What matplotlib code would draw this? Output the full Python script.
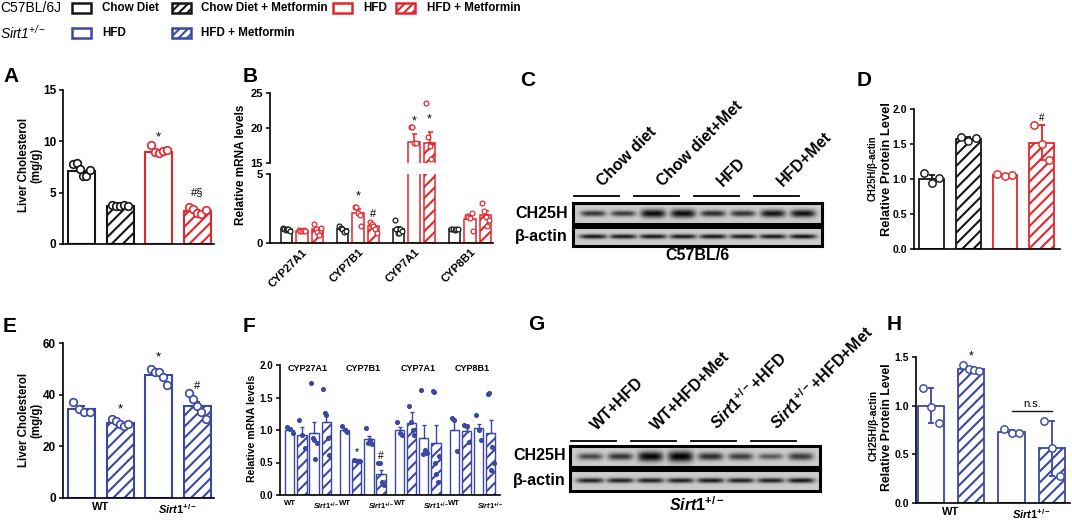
import numpy as np
import matplotlib
matplotlib.use("Agg")
import matplotlib.pyplot as plt
from matplotlib.patches import Rectangle

W, H = 1072, 520
plt.rcParams.update({
    'font.family': ['Liberation Sans', 'DejaVu Sans'],
    'font.weight': 'bold',
    'axes.labelweight': 'bold',
    'mathtext.fontset': 'custom',
    'mathtext.rm': 'Liberation Sans:bold',
    'mathtext.it': 'Liberation Sans:italic:bold',
    'mathtext.bf': 'Liberation Sans:bold',
    'mathtext.sf': 'Liberation Sans:style=italic:weight=normal',
    'hatch.linewidth': 1.5,
    'axes.linewidth': 1.2,
})

BLACK = '#161616'
RED = '#e3262b'
BLUE = '#3a47a3'
HATCH = '///'

# ---------------- data ----------------
legend_c57 = ['Chow Diet', 'Chow Diet + Metformin', 'HFD', 'HFD + Metformin']
legend_sirt = ['HFD', 'HFD + Metformin']

# A: liver cholesterol (mg/g), C57BL/6J
a_mean = [7.1, 3.7, 9.0, 3.2]
a_sem = [0.25, 0.06, 0.15, 0.15]
a_pts = [[7.8, 7.9, 7.3, 6.6, 6.6, 7.2],
         [3.8, 3.75, 3.7, 3.8, 3.75],
         [9.6, 9.0, 8.9, 9.1, 9.2],
         [3.6, 3.4, 3.0, 2.9, 3.3]]
a_sig = ['', '', '*', '#§']
a_sig_y = [0, 0, 9.8, 4.6]

# B: relative mRNA levels
b_genes = ['CYP27A1', 'CYP7B1', 'CYP7A1', 'CYP8B1']
b_chow = [1.0, 1.0, 1.0, 1.0]
b_chow_sem = [0.03, 0.06, 0.15, 0.02]
b_chow_pts = [[1.1, 1.0, 0.95, 1.05, 1.0, 0.9], [1.2, 1.1, 1.0, 0.8, 0.9],
              [1.65, 1.05, 0.7, 0.75, 1.0, 0.9], [1.0, 1.0, 0.95, 1.05, 1.0]]
b_hfd = [0.9, 2.2, 18.0, 1.75]
b_hfd_sem = [0.02, 0.25, 1.1, 0.22]
b_hfd_pts = [[0.95, 0.9, 0.9, 0.95, 0.85], [2.6, 2.6, 2.2, 2.0, 1.2],
             [20.2, 20.2, 17.8, 17.8, 14.5], [1.95, 1.9, 1.8, 2.2, 0.9]]
b_met = [1.0, 1.2, 17.9, 2.0]
b_met_sem = [0.12, 0.14, 1.6, 0.3]
b_met_pts = [[1.4, 1.0, 0.8, 0.6, 1.1], [1.55, 1.35, 1.2, 1.05, 0.7],
             [23.6, 18.7, 17.5, 15.6, 13.0], [2.9, 2.3, 1.9, 1.2, 1.7]]
b_sig = [(1, 1, '*', 3.4), (1, 2, '#', 2.1), (2, 1, '*', 20.9), (2, 2, '*', 21.2)]

# C / G: western blot band intensities (8 lanes)
c_lanes = ['Chow diet', 'Chow diet+Met', 'HFD', 'HFD+Met']
c_ch25h = [0.75, 0.72, 0.95, 0.95, 0.8, 0.75, 0.9, 0.92]
c_ch25h_thick = [0.14, 0.14, 0.2, 0.2, 0.15, 0.15, 0.18, 0.18]
c_actin = [0.9, 0.88, 0.9, 0.88, 0.9, 0.88, 0.88, 0.92]
c_actin_thick = [0.12] * 8

g_lanes = ['WT+HFD', 'WT+HFD+Met', r'$\mathit{Sirt1}^{+/-}$+HFD', r'$\mathit{Sirt1}^{+/-}$+HFD+Met']
g_ch25h = [0.65, 0.75, 0.98, 1.0, 0.8, 0.7, 0.55, 0.72]
g_ch25h_thick = [0.16, 0.17, 0.24, 0.26, 0.18, 0.17, 0.15, 0.18]
g_actin = [0.85, 0.85, 0.85, 0.85, 0.88, 0.85, 0.85, 0.9]
g_actin_thick = [0.12] * 8

# D: CH25H/beta-actin, C57BL/6
d_mean = [1.0, 1.57, 1.06, 1.52]
d_err = [0.06, 0.03, 0.01, 0.25]
d_pts = [[1.08, 0.95, 1.02], [1.6, 1.55, 1.58], [1.07, 1.05, 1.06], [1.77, 1.5, 1.27]]
d_sig = ['', '', '', '#']
d_sig_y = [0, 0, 0, 1.87]

# E: liver cholesterol, WT vs Sirt1+/-
e_labels = ['WT', r'$\mathit{Sirt1}^{+/-}$']
e_mean = [34.5, 29.0, 47.5, 35.5]
e_sem = [1.0, 0.6, 1.1, 1.8]
e_pts = [[37.2, 34.5, 33.3, 33.3], [30.5, 30.0, 28.5, 28.0, 28.8],
         [50.1, 48.8, 48.8, 46.8, 43.6], [40.6, 38.2, 35.5, 33.3, 30.7]]
e_sig = ['', '*', '*', '#']
e_sig_y = [0, 32.0, 52.0, 41.5]

# F: relative mRNA levels, WT/Sirt1 +/- Met
f_genes = ['CYP27A1', 'CYP7B1', 'CYP7A1', 'CYP8B1']
f_mean = [[1.0, 0.93, 0.96, 1.12], [1.0, 0.53, 0.86, 0.33],
          [1.0, 1.11, 0.88, 0.80], [1.0, 0.98, 1.03, 0.95]]
f_sem = [[0.03, 0.12, 0.17, 0.12], [0.03, 0.02, 0.05, 0.06],
         [0.05, 0.16, 0.19, 0.28], [0.15, 0.05, 0.07, 0.2]]
f_pts = [[[1.05, 1.02, 0.95], [1.16, 0.92, 0.72], [1.73, 0.87, 0.85, 0.55, 0.8], [1.63, 1.26, 1.23, 0.87, 0.62]],
         [[1.06, 1.0, 0.97], [0.54, 0.53, 0.52], [1.03, 0.8, 0.85, 0.78], [0.49, 0.49, 0.2, 0.15]],
         [[1.13, 0.95, 0.92], [1.37, 1.13, 1.0, 0.92], [1.62, 0.63, 0.69, 0.64], [1.6, 1.58, 0.5, 0.33, 0.2, 0.6]],
         [[1.19, 1.15, 0.67], [1.08, 1.06, 0.82], [1.23, 1.0, 0.85], [1.55, 1.57, 0.38, 0.74, 0.5]]]
f_sig = [(1, 1, '*', 0.66), (1, 3, '#', 0.60)]

# H: CH25H/beta-actin, WT vs Sirt1+/-
h_mean = [1.0, 1.38, 0.73, 0.56]
h_err = [0.18, 0.02, 0.02, 0.28]
h_pts = [[1.18, 0.99, 0.82], [1.42, 1.38, 1.37, 1.36], [0.76, 0.72, 0.72], [0.84, 0.57, 0.28]]
h_sig = ['', '*', '', '']
h_sig_y = [0, 1.44, 0, 0]

# ---------------- helpers ----------------
fig = plt.figure(figsize=(W / 100, H / 100), dpi=100)


def rect(x0, y0, x1, y1):
    return [x0 / W, 1 - y1 / H, (x1 - x0) / W, (y1 - y0) / H]


def ftext(x, y, s, **kw):
    kw.setdefault('ha', 'left')
    kw.setdefault('va', 'center')
    return fig.text(x / W, 1 - y / H, s, **kw)


ov = fig.add_axes([0, 0, 1, 1])
ov.set_xlim(0, W)
ov.set_ylim(H, 0)
ov.axis('off')


def style(ax, fs):
    for s in ['top', 'right']:
        ax.spines[s].set_visible(False)
    ax.tick_params(direction='out', length=3, width=1.1, labelsize=fs, pad=2)


def draw_bars(ax, xs, means, errs, cols, hatches, width, lw, pts, ms=28,
              filled=False, both=False, cap=2.5):
    for i, (x, m, e, c, h) in enumerate(zip(xs, means, errs, cols, hatches)):
        ax.bar(x, m, width, facecolor='white', edgecolor=c, hatch=h,
               linewidth=lw, zorder=2)
        lo = e if both else 0
        ax.errorbar(x, m, yerr=[[lo], [e]], fmt='none', ecolor=c,
                    elinewidth=lw, capsize=cap, capthick=lw, zorder=3)
        p = pts[i]
        n = len(p)
        off = np.linspace(-0.3, 0.3, n) * width if n > 1 else np.zeros(1)
        ax.scatter(x + off, p, s=ms, facecolor=c if filled else 'white',
                   edgecolor=c, linewidth=lw * 0.8, zorder=4)


def blot(ax, inten, thick, halfw):
    xs = np.linspace(-0.17, 8.13, 500)
    ys = np.linspace(0, 1, 80)
    X, Y = np.meshgrid(xs, ys)
    img = np.zeros_like(X)
    for i, (a, t) in enumerate(zip(inten, thick)):
        prof = a * np.exp(-((X - (i + 0.5)) / halfw) ** 4) * np.exp(-((Y - 0.5) / t) ** 2)
        img = np.maximum(img, prof)
    ax.imshow(0.80 - 0.8 * img, cmap='gray', vmin=0, vmax=1,
              extent=(-0.17, 8.13, 0, 1), origin='lower', aspect='auto',
              interpolation='bilinear')
    ax.set_xlim(-0.17, 8.13)
    ax.set_ylim(0, 1)
    ax.set_xticks([])
    ax.set_yticks([])
    for s in ax.spines.values():
        s.set_linewidth(2.2)


# ---------------- legend ----------------
ftext(0, 8, 'C57BL/6J', fontsize=10, fontweight='normal')
ftext(0, 33, r'$\mathsf{Sirt1}^{\mathsf{+/-}}$', fontsize=10, fontweight='normal')
leg_row1 = [(72, BLACK, '', legend_c57[0], 102), (172, BLACK, '////', legend_c57[1], 201),
            (333, RED, '', legend_c57[2], 363), (396, RED, '////', legend_c57[3], 427)]
leg_row2 = [(72, BLUE, '', legend_sirt[0], 102), (172, BLUE, '////', legend_sirt[1], 201)]
for row, yc in [(leg_row1, 8), (leg_row2, 33)]:
    for bx, col, hat, lab, tx in row:
        ov.add_patch(Rectangle((bx, yc - 5), 19, 10, facecolor='white', edgecolor=col,
                               hatch=hat, linewidth=1.8))
        ov.text(tx, yc, lab, fontsize=8.4, ha='left', va='center')

# panel letters
for lab, x, y in [('A', 3, 77), ('B', 243, 77), ('C', 520, 80), ('D', 857, 80),
                  ('E', 3, 326), ('F', 243, 326), ('G', 528, 325), ('H', 887, 325)]:
    ftext(x, y, lab, fontsize=15)

# ---------------- A ----------------
axA = fig.add_axes(rect(63, 90, 214, 244))
style(axA, 8.5)
xA = np.arange(4)
draw_bars(axA, xA, a_mean, a_sem, [BLACK, BLACK, RED, RED], ['', HATCH, '', HATCH],
          0.7, 1.5, a_pts, ms=30)
for x, s, y in zip(xA, a_sig, a_sig_y):
    if s:
        axA.text(x, y, s, ha='center', va='bottom', fontsize=9.5 if s == '*' else 8,
                 fontweight='normal')
axA.set_ylim(0, 15)
axA.set_yticks([0, 5, 10, 15])
axA.set_xlim(-0.48, 3.43)
axA.set_xticks([])
ftext(30, 165, 'Liver Cholesterol\n(mg/g)', fontsize=8.3, rotation=90, ha='center',
      multialignment='center', linespacing=1.0)

# ---------------- B ----------------
axBl = fig.add_axes(rect(270, 174, 493, 243))
axBu = fig.add_axes(rect(270, 93, 493, 163))
b_off = [-0.277, 0.0, 0.277]
b_series = [(b_chow, b_chow_sem, b_chow_pts, BLACK, ''),
            (b_hfd, b_hfd_sem, b_hfd_pts, RED, ''),
            (b_met, b_met_sem, b_met_pts, RED, HATCH)]
xB = np.arange(4)
for ax in (axBl, axBu):
    style(ax, 8)
    for k, (m, e, p, c, h) in enumerate(b_series):
        draw_bars(ax, xB + b_off[k], m, e, [c] * 4, [h] * 4, 0.2, 1.1, p, ms=12, cap=1.8)
    ax.set_xlim(-0.57, 3.41)
axBl.set_ylim(0, 5)
axBl.set_yticks([0, 5])
axBu.set_ylim(15, 25)
axBu.set_yticks([15, 20, 25])
axBu.spines['bottom'].set_visible(False)
axBu.set_xticks([])
axBl.set_xticks(xB)
axBl.tick_params(axis='x', length=0, pad=3)
axBl.set_xticklabels(b_genes, rotation=45, ha='right', rotation_mode='anchor', fontsize=8)
for g, k, s, y in b_sig:
    ax = axBu if y > 5 else axBl
    ax.text(g + b_off[k], y, s, ha='center', va='center', fontsize=9 if s == '*' else 8,
            fontweight='normal')
ftext(241, 165, 'Relative mRNA levels', fontsize=8.5, rotation=90, ha='center')

# ---------------- C ----------------
axC1 = fig.add_axes(rect(573, 203, 822, 224))
axC2 = fig.add_axes(rect(573, 227, 822, 246))
blot(axC1, c_ch25h, c_ch25h_thick, 0.42)
blot(axC2, c_actin, c_actin_thick, 0.46)
ftext(568, 213, 'CH25H', fontsize=11.5, ha='right')
ftext(568, 237, 'β-actin', fontsize=11.5, ha='right')
ftext(697, 256, 'C57BL/6', fontsize=11.5, ha='center')


def lane_px(x0, lw, lane):
    return x0 + (lane + 0.17) * lw


for i, lab in enumerate(c_lanes):
    ov.plot([lane_px(573, 30.0, 2 * i - 0.15), lane_px(573, 30.0, 2 * i + 1.35)],
            [196, 196], color='black', lw=1.3)
    ov.text(lane_px(573, 30.0, 2 * i + 0.9), 189, lab, rotation=45, ha='left', va='bottom',
            rotation_mode='anchor', fontsize=11.5)

# ---------------- D ----------------
axD = fig.add_axes(rect(914, 109, 1060, 249))
style(axD, 7.5)
xD = np.arange(4)
draw_bars(axD, xD, d_mean, d_err, [BLACK, BLACK, RED, RED], ['', HATCH, '', HATCH],
          0.68, 1.3, d_pts, ms=28, both=True)
for x, s, y in zip(xD, d_sig, d_sig_y):
    if s:
        axD.text(x, y, s, ha='center', va='center', fontsize=7, fontweight='normal')
axD.set_ylim(0, 2)
axD.set_yticks([0, 0.5, 1.0, 1.5, 2.0])
axD.set_yticklabels(['0.0', '0.5', '1.0', '1.5', '2.0'])
axD.set_xlim(-0.48, 3.5)
axD.set_xticks([])
ftext(873, 168, 'CH25H/β-actin', fontsize=6.9, rotation=90, ha='center')
ftext(887, 169, 'Relative Protein Level', fontsize=9.3, rotation=90, ha='center')

# ---------------- E ----------------
axE = fig.add_axes(rect(63, 343, 214, 498))
style(axE, 8.5)
xE = np.arange(4)
draw_bars(axE, xE, e_mean, e_sem, [BLUE] * 4, ['', HATCH, '', HATCH], 0.7, 1.5, e_pts, ms=30)
for x, s, y in zip(xE, e_sig, e_sig_y):
    if s:
        axE.text(x, y, s, ha='center', va='bottom', fontsize=9.5 if s == '*' else 8,
                 fontweight='normal')
axE.set_ylim(0, 60)
axE.set_yticks([0, 20, 40, 60])
axE.set_xlim(-0.48, 3.43)
axE.set_xticks([0.5, 2.5])
axE.set_xticklabels(e_labels, fontsize=8)
axE.tick_params(axis='x', length=0, pad=3)
ftext(30, 420, 'Liver Cholesterol\n(mg/g)', fontsize=8.3, rotation=90, ha='center',
      multialignment='center', linespacing=1.0)

# ---------------- F ----------------
axF = fig.add_axes(rect(280, 365, 500, 495))
style(axF, 7)
f_off = np.array([-1.5, -0.5, 0.5, 1.5]) * 0.221
f_hatch = ['', HATCH, '', HATCH]
for g in range(4):
    draw_bars(axF, g + f_off, f_mean[g], f_sem[g], [BLUE] * 4, f_hatch, 0.17, 1.0,
              f_pts[g], ms=8, filled=True, cap=1.5)
    axF.text(g, 1.95, f_genes[g], ha='center', va='center', fontsize=6.5)
    axF.text(g - 0.331, -0.04, 'WT', ha='center', va='top', fontsize=5.6,
             transform=axF.get_xaxis_transform())
    axF.text(g + 0.331, -0.04, r'$\mathit{Sirt1}^{+/-}$', ha='center', va='top', fontsize=5.3,
             transform=axF.get_xaxis_transform())
for g, k, s, y in f_sig:
    axF.text(g + f_off[k], y, s, ha='center', va='center', fontsize=7.5, fontweight='normal')
axF.set_ylim(0, 2)
axF.set_yticks([0, 0.5, 1.0, 1.5, 2.0])
axF.set_yticklabels(['0.0', '0.5', '1.0', '1.5', '2.0'])
axF.set_xlim(-0.51, 3.5)
axF.set_xticks([])
ftext(252, 428, 'Relative mRNA levels', fontsize=7.6, rotation=90, ha='center')

# ---------------- G ----------------
axG1 = fig.add_axes(rect(570, 446, 820, 467))
axG2 = fig.add_axes(rect(570, 470, 820, 491))
blot(axG1, g_ch25h, g_ch25h_thick, 0.42)
blot(axG2, g_actin, g_actin_thick, 0.46)
ftext(566, 456, 'CH25H', fontsize=11.5, ha='right')
ftext(566, 480, 'β-actin', fontsize=11.5, ha='right')
ftext(697, 505, r'$\mathit{Sirt1}^{+/-}$', fontsize=11.5, ha='center')
for i, lab in enumerate(g_lanes):
    ov.plot([lane_px(570, 30.1, 2 * i - 0.15), lane_px(570, 30.1, 2 * i + 1.35)],
            [441, 441], color='black', lw=1.3)
    ov.text(lane_px(570, 30.1, 2 * i + 0.8), 433, lab, rotation=45, ha='left', va='bottom',
            rotation_mode='anchor', fontsize=11.5)

# ---------------- H ----------------
axH = fig.add_axes(rect(916, 357, 1070, 503))
style(axH, 7.5)
xH = np.arange(4)
draw_bars(axH, xH, h_mean, h_err, [BLUE] * 4, ['', HATCH, '', HATCH], 0.65, 1.3, h_pts,
          ms=28, both=True)
for x, s, y in zip(xH, h_sig, h_sig_y):
    if s:
        axH.text(x, y, s, ha='center', va='bottom', fontsize=8.5, fontweight='normal')
axH.plot([2, 3], [0.95, 0.95], color=BLACK, lw=1.0)
axH.text(2.5, 0.97, 'n.s.', ha='center', va='bottom', fontsize=8, fontweight='normal')
axH.set_ylim(0, 1.5)
axH.set_yticks([0, 0.5, 1.0, 1.5])
axH.set_yticklabels(['0.0', '0.5', '1.0', '1.5'])
axH.set_xlim(-0.37, 3.45)
axH.set_xticks([0.5, 2.5])
axH.set_xticklabels(e_labels, fontsize=8)
axH.tick_params(axis='x', length=0, pad=3)
ftext(874, 425, 'CH25H/β-actin', fontsize=7.5, rotation=90, ha='center')
ftext(887, 427, 'Relative Protein Level', fontsize=8.8, rotation=90, ha='center')

fig.savefig('out.png', dpi=100)
